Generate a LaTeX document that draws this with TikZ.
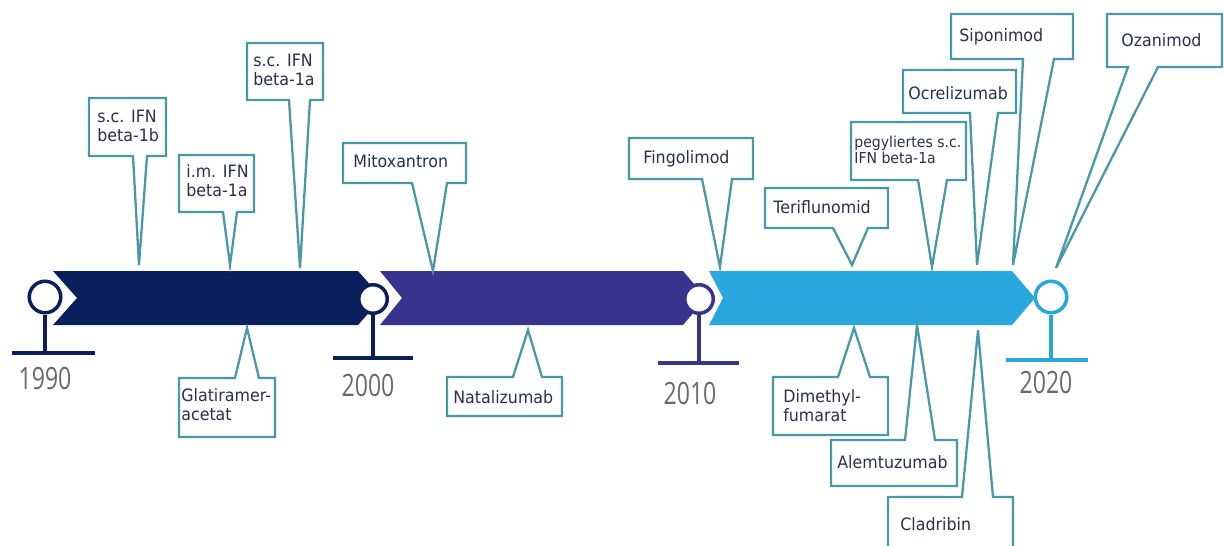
\documentclass[tikz,border=0pt]{standalone}
\usepackage{fontspec}
\setmainfont{DejaVu Sans}[FakeStretch=0.93]
\newfontfamily\yearfont[FakeStretch=0.75]{Open Sans}
\usepackage{tikz}
\usetikzlibrary{positioning}

\definecolor{segA}{RGB}{10,32,92}
\definecolor{segB}{RGB}{54,52,140}
\definecolor{segC}{RGB}{41,168,224}
\definecolor{callline}{RGB}{72,152,168}
\definecolor{calltext}{RGB}{42,48,76}
\definecolor{yeargray}{RGB}{105,105,105}

\begin{document}
\begin{tikzpicture}[x=0.02cm,y=-0.02cm]

	\tikzset{call box/.style={draw=callline, fill=white, line width=1.3pt}}
	\tikzset{call text/.style={anchor=base west, inner sep=0pt, align=left,
			text=calltext}}
	\tikzset{year dot/.style={circle, draw=#1, fill=white, line width=2pt,
			inner sep=0pt}}
	\tikzset{year stem/.style={draw=#1, line width=2pt}}
	\tikzset{year label/.style={text=yeargray,
			font=\yearfont\fontsize{17.5}{17.5}\selectfont}}

	\clip (0,0) rectangle (1224,545);

	% time bar
	\fill[segA] (53,271) -- (358,271) -- (382,298) -- (358,325) -- (53,325) -- (77,298) -- cycle;
	\fill[segB] (380,271) -- (683,271) -- (706,298) -- (683,325) -- (380,325) -- (402,298) -- cycle;
	\fill[segC] (709,271) -- (1012,271) -- (1035,298) -- (1012,325) -- (709,325) -- (723,298) -- cycle;

	% years
	\foreach \yr/\cx/\cy/\sz/\fy/\la/\lb/\tx/\ty/\col in {
		1990/45/297/0.63/353/12/95/45/378/segA,
		2000/373/299/0.57/358/333/413/368/385/segA,
		2010/699/299/0.57/363/658/739/690/393/segB,
		2020/1051/297/0.63/360/1006/1088/1046/382/segC} {
		\node[year dot=\col, minimum size=\sz cm] (d\yr) at (\cx,\cy) {};
		\coordinate (f\yr) at (\cx,\fy);
		\draw[year stem=\col] (d\yr) -- (f\yr);
		\draw[year stem=\col] (\la,\fy) -- (\lb,\fy);
		\node[year label] (t\yr) at (\tx,\ty) {\yr};
	}

	% callouts above the bar (text placed at the baseline of its last line)
	\foreach \nm/\xa/\ya/\xb/\yb/\ba/\bb/\px/\py/\tx/\ty/\fs/\bs/\txt in {
		sc1b/89/98/166/156/133/147/139/265/97/141/9.7/10.3/{s.c. IFN\\beta-1b},
		im1a/179/155/254/212/223/237/230/265/186/196/9.7/10.3/{i.m. IFN\\beta-1a},
		sc1a/247/43/323/100/289/310/300/268/253/85/9.7/10.3/{s.c. IFN\\beta-1a},
		mito/343/143/466/183/412/447/433/271/353/167/9.7/10.3/{Mitoxantron},
		fingo/629/138/753/179/702/732/720/267/643/163/9.7/10.3/{Fingolimod},
		teri/765/188/888/228/833/868/852/265/773/213/9.7/10.3/{Teriflunomid},
		peg/851/122/966/180/918/947/932/267/854/163/8.6/9.1/{pegyliertes s.c.\\IFN beta-1a},
		ocre/903/70/1016/113/970/998/977/265/908/99/9.7/10.3/{Ocrelizumab},
		sipo/951/14/1073/59/1023/1054/1013/265/959/41/9.7/10.3/{Siponimod},
		ozan/1107/14/1222/67/1128/1158/1056/268/1121/46/9.7/10.3/{Ozanimod}} {
		\coordinate (\nm-tip) at (\px,\py);
		\draw[call box] (\xa,\ya) -- (\xb,\ya) -- (\xb,\yb) -- (\bb,\yb) -- (\nm-tip)
			-- (\ba,\yb) -- (\xa,\yb) -- cycle;
		\node[call text, font=\fontsize{\fs}{\bs}\selectfont] (\nm) at (\tx,\ty) {\txt};
	}

	% callouts below the bar
	\foreach \nm/\xa/\ya/\xb/\yb/\ba/\bb/\px/\py/\tx/\ty/\txt in {
		glat/179/378/275/437/235/259/247/328/181/420/{Glatiramer-\\acetat},
		nata/447/377/562/416/513/542/528/330/453/403/{Natalizumab},
		dime/773/377/888/435/838/870/854/328/783/421/{Dimethyl-\\fumarat},
		alem/831/440/957/486/905/935/917/325/837/468/{Alemtuzumab},
		clad/888/497/1013/560/962/993/978/330/900/530/{Cladribin}} {
		\coordinate (\nm-tip) at (\px,\py);
		\draw[call box] (\xa,\yb) -- (\xa,\ya) -- (\ba,\ya) -- (\nm-tip) -- (\bb,\ya)
			-- (\xb,\ya) -- (\xb,\yb) -- cycle;
		\node[call text, font=\fontsize{9.7}{10.3}\selectfont] (\nm) at (\tx,\ty) {\txt};
	}

\end{tikzpicture}
\end{document}
